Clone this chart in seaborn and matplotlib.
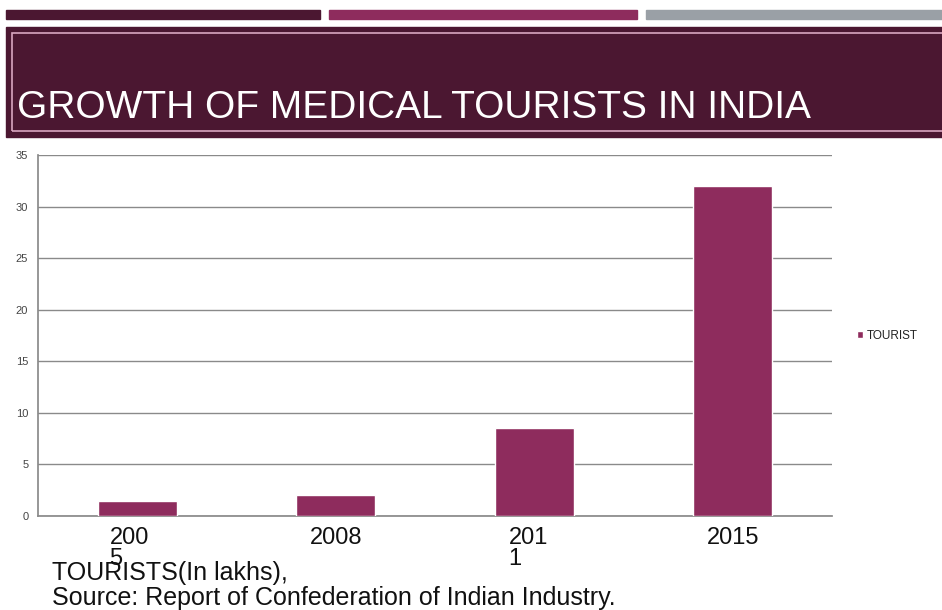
import matplotlib
matplotlib.use("Agg")
import matplotlib.pyplot as plt
import matplotlib.transforms as mtrans
from matplotlib.patches import Rectangle
import seaborn as sns
import pandas as pd

years = ["2005", "2008", "2011", "2015"]
tick_labels = ["200\n5", "2008", "201\n1", "2015"]
tourists = [1.5, 2.0, 8.5, 32.0]
series_name = "TOURIST"
yticks = [0, 5, 10, 15, 20, 25, 30, 35]

sns.set_theme(style="white")
plt.rcParams['font.family'] = ['Liberation Sans', 'DejaVu Sans']

W, H = 942, 610
fig = plt.figure(figsize=(W / 100, H / 100), dpi=100)

def fx(x):
    return x / W

def fy(y):
    return 1 - y / H

# header strips
for x0, x1, c in [(6, 320, "#4b1731"), (329, 637, "#8e2c5d"), (646, 942, "#9aa0a6")]:
    fig.patches.append(Rectangle((fx(x0), fy(19)), fx(x1 - x0), 9 / H,
                                 transform=fig.transFigure, color=c, zorder=0))
# banner
fig.patches.append(Rectangle((fx(6), fy(137)), fx(942 - 6), 110 / H,
                             transform=fig.transFigure, color="#4b1731", zorder=0))
fig.patches.append(Rectangle((fx(12), fy(131)), fx(960 - 12), 98 / H,
                             transform=fig.transFigure, fill=False,
                             edgecolor="#d9a7c0", linewidth=1.2, zorder=1))
fig.text(fx(17), fy(118), "GROWTH OF MEDICAL TOURISTS IN INDIA", color="white",
         fontsize=28, ha="left", va="baseline")

df = pd.DataFrame({"year": years, "value": tourists, "series": series_name})

ax = fig.add_axes([fx(38), fy(516), fx(832 - 38), (516 - 155) / H])
sns.barplot(data=df, x="year", y="value", hue="series", palette=["#8e2c5d"],
            width=0.4, ax=ax, saturation=1, legend=True, zorder=3)

ax.set_ylim(0, 35)
ax.set_yticks(yticks)
ax.set_yticklabels([str(v) for v in yticks], fontsize=8, color="#444444")
ax.yaxis.grid(True, color="#8a8a8a", linewidth=1)
ax.set_axisbelow(True)
ax.set_xlabel("")
ax.set_ylabel("")
for s in ["top", "right"]:
    ax.spines[s].set_visible(False)
ax.spines["left"].set_color("#8a8a8a")
ax.spines["bottom"].set_color("#8a8a8a")
ax.tick_params(axis="y", length=3, color="#8a8a8a", pad=4)
ax.tick_params(axis="x", length=0, pad=8)
ax.set_xticks(range(len(years)))
ax.set_xticklabels(tick_labels, fontsize=17, color="#111111", linespacing=0.95)
for lbl, dx in zip(ax.get_xticklabels(), [-8, 0, -6, 0]):
    lbl.set_multialignment("left")
    lbl.set_transform(lbl.get_transform() + mtrans.ScaledTranslation(dx / 100, 0, fig.dpi_scale_trans))

leg = ax.legend(loc="center left", bbox_to_anchor=(fx(846 - 38) / fx(832 - 38), 0.5),
                frameon=False, fontsize=8.5, handlelength=0.5, handleheight=0.5,
                handletextpad=0.4)
for t in leg.get_texts():
    t.set_color("#222222")

fig.text(fx(52), fy(580), "TOURISTS(In lakhs),", fontsize=18, color="#111111",
         ha="left", va="baseline")
fig.text(fx(52), fy(605), "Source: Report of Confederation of Indian Industry.",
         fontsize=18, color="#111111", ha="left", va="baseline")

fig.savefig("out.png", dpi=100)
